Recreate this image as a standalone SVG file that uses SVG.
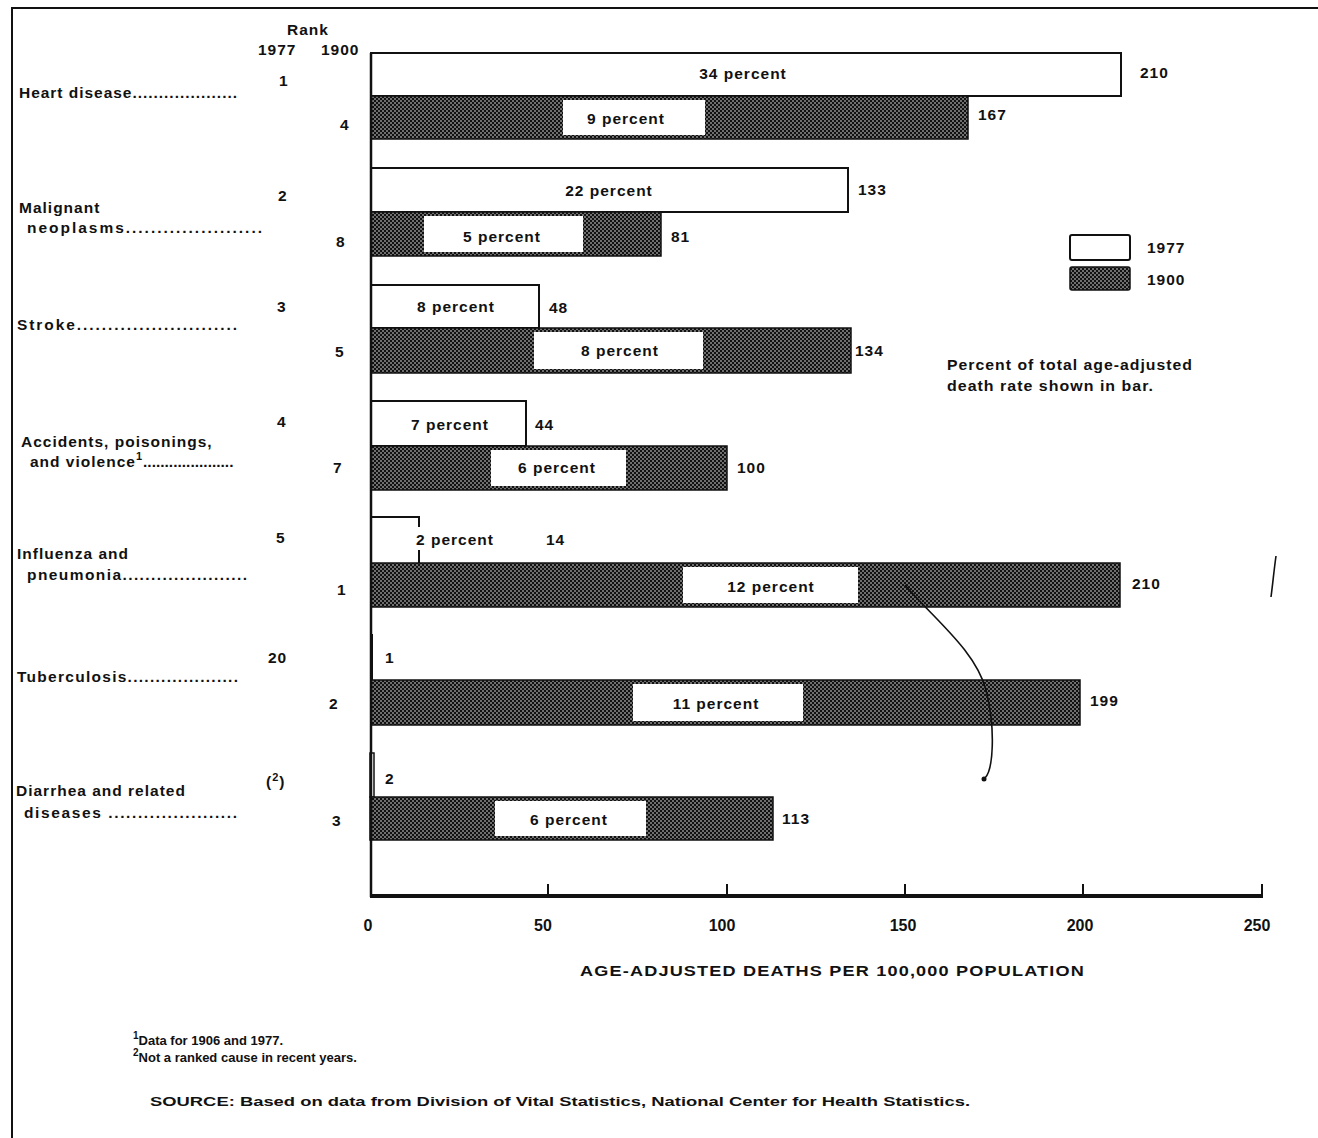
<svg xmlns="http://www.w3.org/2000/svg" width="1318" height="1138" viewBox="0 0 1318 1138">
<defs>
<pattern id="dots" width="4" height="4" patternUnits="userSpaceOnUse">
<rect width="4" height="4" fill="#111"/>
<circle cx="1" cy="1" r="0.8" fill="#e6e6e6"/>
<circle cx="3" cy="3" r="0.8" fill="#e6e6e6"/>
</pattern>
<style>
text{font-family:"Liberation Sans",Arial,sans-serif;fill:#111;font-size:15.5px;font-weight:bold;letter-spacing:1px}
.pct{text-anchor:middle}
.b77{fill:#fff;stroke:#111;stroke-width:2}
.b00{fill:url(#dots);stroke:#111;stroke-width:1.5}
.box{fill:#fff}
.tk{font-size:16px;text-anchor:middle;letter-spacing:0}
.fn{font-size:13px;letter-spacing:0}
</style>
</defs>
<rect width="1318" height="1138" fill="#fff"/>
<!-- frame -->
<path d="M12 1138 V8 H1318" fill="none" stroke="#111" stroke-width="2"/>

<!-- header -->
<g id="header">
<text x="287" y="35">Rank</text>
<text x="258" y="55" letter-spacing="0">1977</text>
<text x="321" y="55" letter-spacing="0">1900</text>
</g>

<!-- category labels and ranks -->
<g id="cat-heart">
<text x="19" y="98" textLength="219" lengthAdjust="spacing">Heart disease....................</text>
<text x="279" y="86">1</text>
<text x="340" y="130">4</text>
</g>
<g id="cat-malignant">
<text x="19" y="213">Malignant</text>
<text x="27" y="233" textLength="236" lengthAdjust="spacing">neoplasms......................</text>
<text x="278" y="201">2</text>
<text x="336" y="247">8</text>
</g>
<g id="cat-stroke">
<text x="17" y="330" textLength="221" lengthAdjust="spacing">Stroke..........................</text>
<text x="277" y="312">3</text>
<text x="335" y="357">5</text>
</g>
<g id="cat-accidents">
<text x="21" y="447">Accidents, poisonings,</text>
<text x="30" y="467">and violence<tspan dy="-7" font-size="11">1</tspan><tspan dy="7" letter-spacing="0">.....................</tspan></text>
<text x="277" y="427">4</text>
<text x="333" y="473">7</text>
</g>
<g id="cat-influenza">
<text x="17" y="559">Influenza and</text>
<text x="27" y="580" textLength="221" lengthAdjust="spacing">pneumonia......................</text>
<text x="276" y="543">5</text>
<text x="337" y="595">1</text>
</g>
<g id="cat-tb">
<text x="17" y="682" textLength="222" lengthAdjust="spacing">Tuberculosis....................</text>
<text x="268" y="663" letter-spacing="0">20</text>
<text x="329" y="709">2</text>
</g>
<g id="cat-diarrhea">
<text x="16" y="796">Diarrhea and related</text>
<text x="24" y="818" textLength="214" lengthAdjust="spacing">diseases ......................</text>
<text x="266" y="787" letter-spacing="0">(<tspan dy="-6" font-size="11">2</tspan><tspan dy="6">)</tspan></text>
<text x="332" y="826">3</text>
</g>

<!-- bars -->
<g id="bars">
<g id="bar-heart">
<rect x="371" y="53" width="750" height="43" class="b77"/>
<rect x="371" y="96" width="597" height="43" class="b00"/>
<rect x="563" y="100" width="142" height="35" class="box"/>
<text x="743" y="79" class="pct">34 percent</text>
<text x="626" y="124" class="pct">9 percent</text>
<text x="1140" y="78">210</text>
<text x="978" y="120">167</text>
</g>
<g id="bar-malignant">
<rect x="371" y="168" width="477" height="44" class="b77"/>
<rect x="371" y="212" width="290" height="44" class="b00"/>
<rect x="424" y="216" width="159" height="36" class="box"/>
<text x="609" y="196" class="pct">22 percent</text>
<text x="502" y="242" class="pct">5 percent</text>
<text x="858" y="195">133</text>
<text x="671" y="242">81</text>
</g>
<g id="bar-stroke">
<rect x="371" y="285" width="168" height="43" class="b77"/>
<rect x="371" y="328" width="480" height="45" class="b00"/>
<rect x="534" y="332" width="169" height="37" class="box"/>
<text x="456" y="312" class="pct">8 percent</text>
<text x="620" y="356" class="pct">8 percent</text>
<text x="549" y="313">48</text>
<text x="855" y="356">134</text>
</g>
<g id="bar-accidents">
<rect x="371" y="401" width="155" height="45" class="b77"/>
<rect x="371" y="446" width="356" height="44" class="b00"/>
<rect x="491" y="450" width="135" height="36" class="box"/>
<text x="450" y="430" class="pct">7 percent</text>
<text x="557" y="473" class="pct">6 percent</text>
<text x="535" y="430">44</text>
<text x="737" y="473">100</text>
</g>
<g id="bar-influenza">
<path d="M371 517 H419 V527 M419 550 V563" fill="none" stroke="#111" stroke-width="2"/>
<rect x="371" y="563" width="749" height="44" class="b00"/>
<rect x="683" y="567" width="175" height="36" class="box"/>
<text x="455" y="545" class="pct">2 percent</text>
<text x="771" y="592" class="pct">12 percent</text>
<text x="546" y="545">14</text>
<text x="1132" y="589">210</text>
</g>
<g id="bar-tb">
<rect x="370" y="634" width="3" height="46" fill="#111"/>
<rect x="371" y="680" width="709" height="45" class="b00"/>
<rect x="633" y="684" width="170" height="37" class="box"/>
<text x="385" y="663">1</text>
<text x="716" y="709" class="pct">11 percent</text>
<text x="1090" y="706">199</text>
</g>
<g id="bar-diarrhea">
<rect x="370" y="753" width="4" height="44" fill="#fff" stroke="#111" stroke-width="1.5"/>
<rect x="370" y="797" width="403" height="43" class="b00"/>
<rect x="495" y="801" width="151" height="35" class="box"/>
<text x="385" y="784">2</text>
<text x="569" y="825" class="pct">6 percent</text>
<text x="782" y="824">113</text>
</g>
</g>

<!-- axes -->
<g id="axes">
<line x1="371" y1="53" x2="371" y2="897" stroke="#111" stroke-width="2.5"/>
<line x1="370" y1="896" x2="1263" y2="896" stroke="#111" stroke-width="4"/>
<path d="M548 896 V884 M727 896 V884 M905 896 V884 M1083 896 V884 M1262 896 V884" stroke="#111" stroke-width="2"/>
<text x="368" y="931" class="tk">0</text>
<text x="543" y="931" class="tk">50</text>
<text x="722" y="931" class="tk">100</text>
<text x="903" y="931" class="tk">150</text>
<text x="1080" y="931" class="tk">200</text>
<text x="1257" y="931" class="tk">250</text>
<text x="580" y="976" font-size="15" textLength="505" lengthAdjust="spacingAndGlyphs">AGE-ADJUSTED DEATHS PER 100,000 POPULATION</text>
</g>

<!-- legend -->
<g id="legend">
<rect x="1070" y="235" width="60" height="25" rx="2" class="b77"/>
<rect x="1070" y="267" width="60" height="23" rx="2" class="b00"/>
<text x="1147" y="253" letter-spacing="0.5">1977</text>
<text x="1147" y="285" letter-spacing="0.5">1900</text>
<text x="947" y="370" textLength="246" lengthAdjust="spacingAndGlyphs">Percent of total age-adjusted</text>
<text x="947" y="391" textLength="207" lengthAdjust="spacingAndGlyphs">death rate shown in bar.</text>
</g>

<!-- scan mark -->
<path d="M905 585 C935 620 975 650 986 690 C996 730 993 770 985 778" fill="none" stroke="#111" stroke-width="1.6"/>
<circle cx="984" cy="779" r="2.5" fill="#111"/>
<path d="M1276 556 C1274 570 1273 582 1271 597" fill="none" stroke="#111" stroke-width="1.6"/>

<!-- footnotes -->
<g id="footnotes">
<text x="133" y="1045" class="fn"><tspan dy="-6" font-size="10">1</tspan><tspan dy="6">Data for 1906 and 1977.</tspan></text>
<text x="133" y="1062" class="fn"><tspan dy="-6" font-size="10">2</tspan><tspan dy="6">Not a ranked cause in recent years.</tspan></text>
<text x="150" y="1106" class="fn" textLength="820" lengthAdjust="spacingAndGlyphs">SOURCE: Based on data from Division of Vital Statistics, National Center for Health Statistics.</text>
</g>
</svg>
